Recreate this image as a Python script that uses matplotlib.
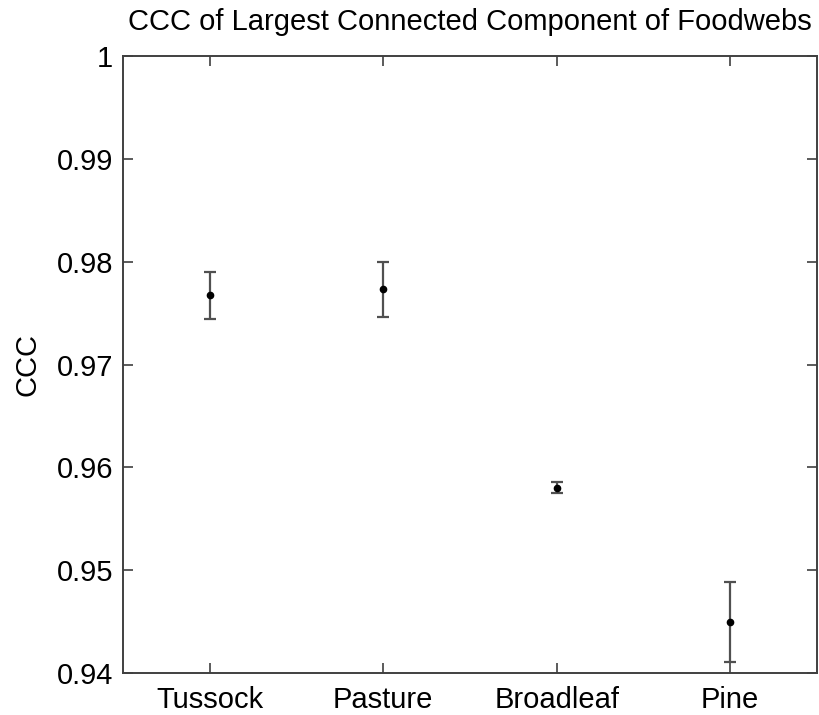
import matplotlib
matplotlib.use('Agg')
import matplotlib.pyplot as plt
import numpy as np

plt.rcParams['font.family'] = ['Liberation Sans', 'DejaVu Sans']

# Data
sites = ['Tussock', 'Pasture', 'Broadleaf', 'Pine']
ccc_mean = [0.97675, 0.9773, 0.95801, 0.94497]
ccc_low = [0.97445, 0.97458, 0.95746, 0.94112]
ccc_high = [0.97896, 0.98001, 0.95856, 0.94886]
y_ticks = [0.94, 0.95, 0.96, 0.97, 0.98, 0.99, 1.0]
y_tick_labels = ['0.94', '0.95', '0.96', '0.97', '0.98', '0.99', '1']

x = np.arange(1, len(sites) + 1)
mean = np.array(ccc_mean)
yerr = [mean - np.array(ccc_low), np.array(ccc_high) - mean]

fig = plt.figure(figsize=(8.2, 7.15), dpi=100)
ax = fig.add_axes([0.15, 0.0587, 0.8463, 0.863])

ax.errorbar(x, mean, yerr=yerr, fmt='o', color='black', markersize=4.5,
            ecolor='#505050', elinewidth=1.6, capsize=4.2, capthick=1.6)

ax.set_xlim(0.5, 4.5)
ax.set_ylim(0.94, 1.0)
ax.set_xticks(x)
ax.set_xticklabels(sites)
ax.set_yticks(y_ticks)
ax.set_yticklabels(y_tick_labels)

for s in ax.spines.values():
    s.set_color('#404040')
    s.set_linewidth(1.4)
ax.tick_params(direction='in', length=7, width=1.2, color='#404040',
               top=True, right=True, labelsize=21)
ax.tick_params(axis='x', pad=9)
ax.tick_params(axis='y', pad=7)

ax.set_ylabel('CCC', fontsize=21, labelpad=11)
ax.set_title('CCC of Largest Connected Component of Foodwebs', fontsize=21, pad=19)

fig.savefig('out.png', dpi=100)
